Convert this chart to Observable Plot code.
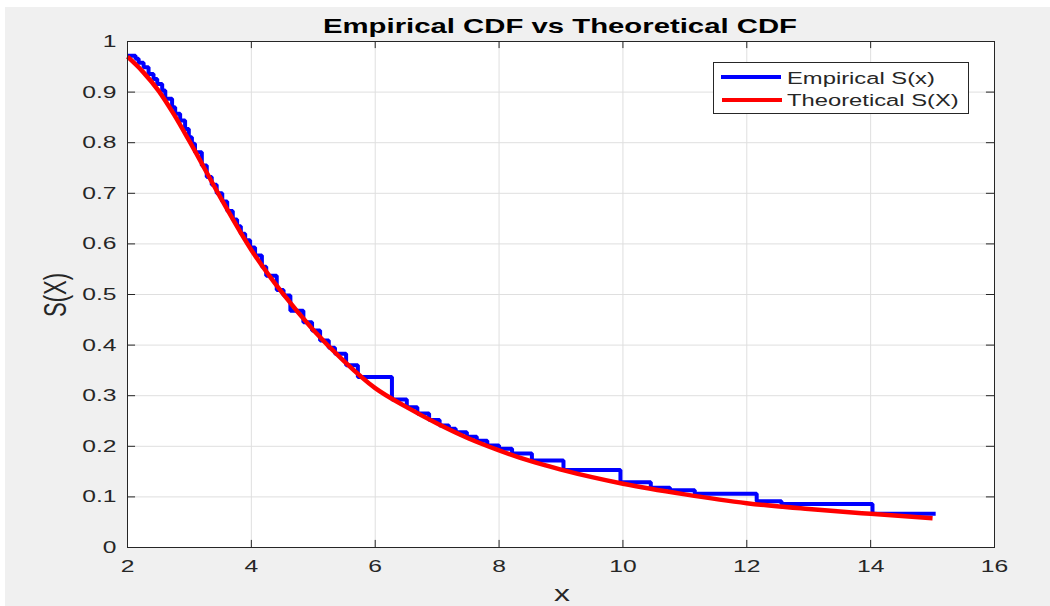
<!DOCTYPE html>
<html>
<head>
<meta charset="utf-8">
<script src="https://cdn.jsdelivr.net/npm/d3@7"></script>
<script src="https://cdn.jsdelivr.net/npm/@observablehq/plot@0.6"></script>
<style>
  html, body { margin: 0; padding: 0; background: #ffffff; }
  #fig { position: relative; width: 1050px; height: 606px; overflow: hidden; background: #ffffff; font-family: "Liberation Sans", Arial, sans-serif; color: #262626; }
  #bg { position: absolute; left: 5px; top: 7px; right: 0; bottom: 0; background: #f0f0f0; }
  #chart { position: absolute; left: 0; top: 0; }
  #title { position: absolute; left: 560px; top: 15px; font-size: 20.5px; line-height: 22px; font-weight: bold; color: #000; white-space: nowrap; transform: translateX(-50%) scaleX(1.43); }
  #ylab { position: absolute; left: 56px; top: 295px; font-size: 22px; line-height: 22px; white-space: nowrap; color: #262626; transform: translate(-50%, -50%) rotate(-90deg) scaleY(1.45); }
  #xlab { position: absolute; left: 562px; top: 583px; font-size: 22px; line-height: 22px; white-space: nowrap; color: #262626; transform: translateX(-50%) scaleX(1.45); }
  #legend { position: absolute; left: 713px; top: 62px; width: 254px; height: 50px; background: #fff; border: 1px solid #262626; }
  .lgline { position: absolute; height: 4px; }
  .lgtext { position: absolute; left: 73px; font-size: 16.3px; line-height: 18px; white-space: nowrap; color: #262626; transform-origin: left center; transform: scaleX(1.46); }
</style>
</head>
<body>
<div id="fig">
  <div id="bg"></div>
  <div id="chart"></div>
  <div id="title">Empirical CDF vs Theoretical CDF</div>
  <div id="ylab">S(X)</div>
  <div id="xlab">x</div>
  <div id="legend">
    <div class="lgline" style="left:7px; top:12px; width:60px; background:#0000ff;"></div>
    <div class="lgtext" style="top:6px;">Empirical S(x)</div>
    <div class="lgline" style="left:8px; top:35px; width:60px; background:#ff0000;"></div>
    <div class="lgtext" style="top:28px;">Theoretical S(X)</div>
  </div>
</div>
<script>
// ---- data ----
const xTicks = [2, 4, 6, 8, 10, 12, 14, 16];
const yTicks = [0, 0.1, 0.2, 0.3, 0.4, 0.5, 0.6, 0.7, 0.8, 0.9, 1];

// Empirical survival function: step positions and levels (step-after)
const empX = [2.00, 2.13, 2.18, 2.26, 2.34, 2.42, 2.48, 2.56, 2.61, 2.72, 2.77, 2.85, 2.93, 2.99, 3.04, 3.09,
  3.20, 3.28, 3.36, 3.44, 3.53, 3.61, 3.70, 3.77, 3.83, 3.90, 3.98, 4.06, 4.17, 4.24, 4.41, 4.52, 4.63, 4.84,
  4.98, 5.11, 5.25, 5.35, 5.53, 5.72, 6.27, 6.51, 6.68, 6.87, 7.04, 7.19, 7.30, 7.48, 7.64, 7.81, 8.00, 8.21,
  8.53, 9.04, 9.96, 10.45, 10.76, 11.16, 12.16, 12.56, 14.03, 15.05];
const empY = [0.972, 0.966, 0.958, 0.949, 0.936, 0.926, 0.916, 0.903, 0.887, 0.870, 0.857, 0.844, 0.827, 0.811, 0.798, 0.781,
  0.755, 0.732, 0.717, 0.700, 0.684, 0.665, 0.648, 0.635, 0.620, 0.607, 0.593, 0.577, 0.555, 0.537, 0.509, 0.498, 0.468, 0.445,
  0.429, 0.409, 0.395, 0.383, 0.360, 0.337, 0.2925, 0.277, 0.265, 0.252, 0.241, 0.2345, 0.228, 0.219, 0.211, 0.2015, 0.195, 0.186,
  0.172, 0.153, 0.129, 0.118, 0.113, 0.106, 0.0915, 0.086, 0.0666, 0.0666];

// Theoretical survival function, sampled points
const theoX = [2.00, 2.25, 2.50, 2.75, 3.00, 3.50, 4.00, 4.50, 5.00, 5.50, 6.00, 6.50, 7.00, 7.50, 8.00, 8.50, 9.00, 9.50, 10.00, 11.00, 12.00, 13.00, 14.00, 15.00];
const theoY = [0.970, 0.940, 0.903, 0.856, 0.803, 0.692, 0.588, 0.503, 0.430, 0.368, 0.315, 0.278, 0.245, 0.216, 0.192, 0.171, 0.154, 0.139, 0.126, 0.105, 0.0876, 0.076, 0.0666, 0.058];

// ---- build tables ----
const empirical = empX.map((x, i) => ({x, y: empY[i]}));
const theoretical = theoX.map((x, i) => ({x, y: theoY[i]}));

const innerX = xTicks.slice(1, -1);
const innerY = yTicks.slice(1, -1);
const tlx = 0.13, tly = 0.014;
const ink = "#262626", gridc = "#dfdfdf";

const chart = Plot.plot({
  width: 1050,
  height: 606,
  marginLeft: 127,
  marginRight: 56,
  marginTop: 41,
  marginBottom: 59,
  style: {background: "transparent", fontFamily: "'Liberation Sans', Arial, sans-serif", color: ink},
  x: {domain: [2, 16], label: null},
  y: {domain: [0, 1], label: null},
  marks: [
    Plot.frame({fill: "#ffffff", stroke: "none"}),
    Plot.ruleX(innerX, {x: d => d, stroke: gridc, strokeWidth: 1}),
    Plot.ruleY(innerY, {y: d => d, stroke: gridc, strokeWidth: 1}),
    Plot.line(empirical, {x: "x", y: "y", curve: "step-after", stroke: "#0000ff", strokeWidth: 4, strokeLinejoin: "miter", strokeLinecap: "butt"}),
    Plot.line(theoretical, {x: "x", y: "y", curve: "monotone-x", stroke: "#ff0000", strokeWidth: 4.5, strokeLinecap: "butt"}),
    Plot.frame({stroke: ink, strokeWidth: 1}),
    Plot.ruleX(innerX, {x: d => d, y1: 0, y2: tly, stroke: ink}),
    Plot.ruleX(innerX, {x: d => d, y1: 1 - tly, y2: 1, stroke: ink}),
    Plot.ruleY(innerY, {y: d => d, x1: 2, x2: 2 + tlx, stroke: ink}),
    Plot.ruleY(innerY, {y: d => d, x1: 16 - tlx, x2: 16, stroke: ink}),
    Plot.axisX({ticks: xTicks, tickSize: 0, tickPadding: 12, fontSize: 17, tickFormat: d => String(d), label: null, color: ink}),
    Plot.axisY({ticks: yTicks, tickSize: 0, tickPadding: 11, fontSize: 17, tickFormat: d => String(+d.toFixed(1)), label: null, color: ink})
  ]
});

document.getElementById("chart").appendChild(chart);

// horizontal stretch of tick labels to match the reference rendering
chart.querySelectorAll("text").forEach(t => {
  const tr = t.getAttribute("transform");
  if (tr) t.setAttribute("transform", tr + " scale(1.45,1)");
  else {
    const x = +t.getAttribute("x") || 0, y = +t.getAttribute("y") || 0;
    t.setAttribute("transform", `translate(${x},${y}) scale(1.45,1) translate(${-x},${-y})`);
  }
});
</script>
</body>
</html>
